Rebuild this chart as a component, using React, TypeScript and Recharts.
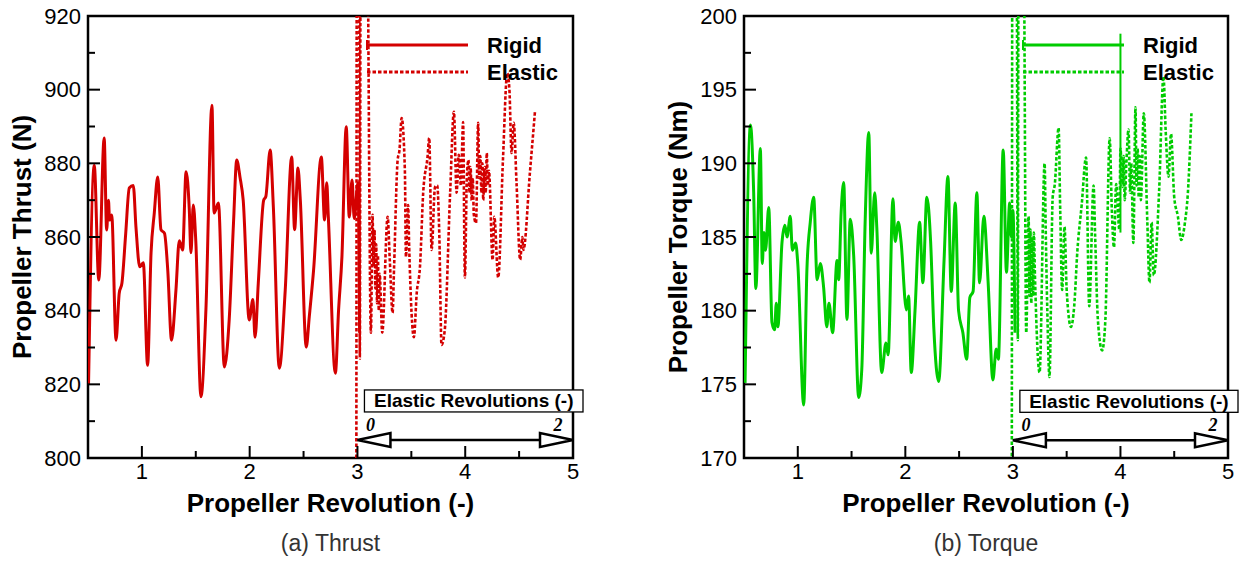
import { Label, Line, LineChart, ReferenceArea, ReferenceLine, XAxis, YAxis } from "recharts";

type Pt = [number, number];

// propeller revolution vs thrust (N) / torque (Nm)
const thrustRigid: Pt[] = [
  [0.505, 820], [0.558, 879.5], [0.6, 848.3], [0.65, 886.9], [0.673, 861.9], [0.69, 870], [0.7, 864.6],
  [0.72, 866], [0.76, 832], [0.79, 844.8], [0.815, 847.5], [0.85, 861], [0.883, 873.3], [0.92, 874],
  [0.945, 862.7], [0.98, 851.9], [1.013, 853], [1.053, 825.2], [1.085, 855.7], [1.115, 866.5],
  [1.147, 876.3], [1.177, 862], [1.21, 861], [1.24, 851], [1.275, 832], [1.316, 845.6], [1.347, 859],
  [1.378, 856.5], [1.41, 877.7], [1.44, 867.3], [1.455, 855.7], [1.477, 868.7], [1.5, 859],
  [1.548, 816.6], [1.594, 840.2], [1.65, 895.8], [1.67, 866.5], [1.71, 869.2], [1.765, 824.7],
  [1.81, 837.5], [1.85, 863.8], [1.88, 880.9], [1.91, 876.3], [1.94, 870], [1.996, 837.5], [2.03, 843],
  [2.05, 832.8], [2.08, 847.5], [2.13, 870], [2.15, 871], [2.19, 883.6], [2.22, 868], [2.275, 824.4],
  [2.33, 845.6], [2.39, 881.7], [2.417, 862], [2.448, 878.7], [2.47, 870], [2.525, 830.1],
  [2.553, 838.3], [2.593, 851], [2.665, 881.7], [2.695, 864.6], [2.715, 874.7], [2.73, 865.4],
  [2.795, 823], [2.825, 840.2], [2.856, 854.6], [2.896, 889.9], [2.924, 865.4], [2.95, 875.5],
  [2.97, 865], [3.005, 874.7], [3.02, 834],
];

const thrustElastic: Pt[] = [
  [2.99, 800], [2.995, 960], [3.015, 960], [3.022, 827], [3.03, 960], [3.085, 960], [3.125, 834],
  [3.14, 866], [3.15, 852], [3.158, 862], [3.166, 846], [3.174, 858], [3.182, 842], [3.19, 855],
  [3.198, 840], [3.206, 850], [3.23, 834], [3.28, 865.5], [3.3, 853.8], [3.326, 839.4], [3.34, 851.9],
  [3.373, 880.9], [3.39, 883.6], [3.41, 892.3], [3.44, 878.2], [3.45, 854.6], [3.47, 868.7],
  [3.48, 857.3], [3.524, 832.8], [3.55, 844.8], [3.58, 851.9], [3.61, 872], [3.65, 881.7],
  [3.666, 886.9], [3.688, 856.5], [3.72, 873.6], [3.74, 874], [3.76, 860], [3.78, 830.7],
  [3.81, 834.7], [3.86, 872], [3.895, 894], [3.92, 872], [3.94, 882.3], [3.96, 874], [3.98, 891.2],
  [3.997, 849], [4.015, 876], [4.03, 880.9], [4.04, 872], [4.05, 879], [4.06, 870], [4.07, 876],
  [4.08, 866], [4.1, 863.8], [4.12, 891], [4.13, 876], [4.14, 882], [4.15, 872], [4.16, 880],
  [4.167, 870], [4.18, 879], [4.19, 872], [4.2, 882.8], [4.21, 874], [4.22, 878], [4.254, 853.8],
  [4.27, 865.5], [4.306, 849], [4.35, 880.9], [4.39, 904.5], [4.41, 900], [4.43, 882.8], [4.45, 891],
  [4.476, 874.7], [4.51, 853.8], [4.53, 860], [4.54, 856.5], [4.6, 877.4], [4.647, 894],
];

const torqueRigid: Pt[] = [
  [0.51, 175.1], [0.56, 192.6], [0.59, 188], [0.61, 181.5], [0.652, 191], [0.67, 183.2], [0.685, 185.3],
  [0.7, 184.1], [0.73, 187], [0.76, 179.2], [0.785, 178.7], [0.8, 180.5], [0.815, 178.9], [0.853, 184.6],
  [0.88, 185.8], [0.9, 185], [0.93, 186.4], [0.95, 184.1], [0.98, 184.6], [1.0, 183.2], [1.055, 173.6],
  [1.085, 182.8], [1.116, 186], [1.148, 187.7], [1.18, 182.1], [1.21, 183.2], [1.24, 181.6],
  [1.27, 178.9], [1.29, 180.5], [1.324, 178.5], [1.365, 183.4], [1.38, 182.1], [1.404, 186.8],
  [1.427, 188.7], [1.457, 179.4], [1.488, 186.2], [1.52, 183.7], [1.566, 174.1], [1.595, 176],
  [1.627, 186.2], [1.66, 192.1], [1.683, 183.9], [1.715, 188], [1.735, 185.6], [1.78, 175.8],
  [1.82, 177.8], [1.84, 177], [1.885, 187.6], [1.905, 184.7], [1.935, 186], [1.96, 184.7],
  [2.01, 180.05], [2.03, 181], [2.055, 175.8], [2.09, 180], [2.133, 186], [2.163, 181.9], [2.2, 187.7],
  [2.235, 184.7], [2.265, 178.8], [2.31, 175.2], [2.36, 183.4], [2.396, 189.1], [2.427, 181.3],
  [2.464, 187.3], [2.495, 180], [2.535, 178.5], [2.57, 176.7], [2.6, 180.9], [2.63, 181.3],
  [2.665, 188], [2.69, 181.9], [2.73, 186.4], [2.77, 181.9], [2.814, 175.3], [2.845, 177.4],
  [2.865, 176.7], [2.91, 190.9], [2.94, 182.6], [2.97, 187.3], [2.985, 185], [3.0, 186.8], [3.02, 178.5],
];

const torqueElastic: Pt[] = [
  [2.99, 169], [2.995, 205], [3.035, 205], [3.046, 178], [3.052, 205], [3.1, 205], [3.124, 178.5],
  [3.146, 186.4], [3.155, 181], [3.163, 185.5], [3.171, 180.5], [3.179, 185], [3.187, 181],
  [3.195, 185.3], [3.205, 182.4], [3.248, 175.8], [3.295, 190], [3.305, 185.6], [3.32, 180],
  [3.34, 175.5], [3.37, 187.7], [3.39, 188.6], [3.425, 192.4], [3.44, 186.8], [3.458, 181.4],
  [3.48, 185.7], [3.5, 181.4], [3.54, 178.9], [3.57, 180.3], [3.6, 184.1], [3.64, 187.2],
  [3.68, 190.4], [3.71, 180.3], [3.75, 188.5], [3.765, 185], [3.79, 179.4], [3.83, 177.3],
  [3.86, 179.4], [3.9, 191.7], [3.92, 186.8], [3.94, 184.3], [3.96, 188.6], [3.99, 185.5], [4.0, 191],
  [4.02, 188.4], [4.03, 190.5], [4.04, 187.5], [4.055, 190], [4.075, 192.3], [4.09, 188], [4.1, 190],
  [4.12, 184.6], [4.14, 193.8], [4.15, 188.5], [4.16, 191], [4.17, 187.7], [4.18, 190.5],
  [4.19, 187.5], [4.217, 193.4], [4.25, 186], [4.27, 181.9], [4.29, 186], [4.31, 182.4],
  [4.36, 188.2], [4.4, 195.9], [4.42, 192.3], [4.447, 189.1], [4.47, 192], [4.5, 187.7],
  [4.534, 186.4], [4.565, 184.8], [4.6, 186], [4.627, 188], [4.66, 193.4],
];

// a stray solid segment of the rigid torque trace near x = 4
const torqueStray: Pt[] = [[4.0, 185.3], [4.0, 198.8]];

const revDomain: [number, number] = [0.5, 5];
const revTicks = [1, 1.5, 2, 2.5, 3, 3.5, 4, 4.5, 5];
const thrustDomain: [number, number] = [800, 920];
const thrustTicks = [800, 810, 820, 830, 840, 850, 860, 870, 880, 890, 900, 910, 920];
const torqueDomain: [number, number] = [170, 200];
const torqueTicks = [170, 172.5, 175, 177.5, 180, 182.5, 185, 187.5, 190, 192.5, 195, 197.5, 200];

const seriesNames = ["Rigid", "Elastic"];
const elasticSpan: [number, number] = [3, 5]; // elastic revolutions 0..2
const elasticSpanLabels = ["0", "2"];

const RED = "#d40000";
const GREEN = "#00cc00";
const DOTS = "3.5 2";

const toRows = (pts: Pt[]) => pts.map(([x, y]) => ({ x, y }));

function RevTick({ x, y, payload }: any) {
  const v = payload.value as number;
  const major = Number.isInteger(v);
  return (
    <g>
      <line x1={x} x2={x} y1={y} y2={y - (major ? 12 : 7)} stroke="#000" strokeWidth={2} />
      {major && (
        <text x={x} y={y + 13} textAnchor="middle" dominantBaseline="central" fontSize={22} fill="#000">
          {v}
        </text>
      )}
    </g>
  );
}

const valueTick = (step: number) =>
  function ValueTick({ x, y, payload }: any) {
    const v = payload.value as number;
    const major = Math.abs(v / step - Math.round(v / step)) < 1e-6;
    return (
      <g>
        <line x1={x} x2={x + (major ? 12 : 7)} y1={y} y2={y} stroke="#000" strokeWidth={2} />
        {major && (
          <text x={x - 7} y={y} textAnchor="end" dominantBaseline="central" fontSize={22} fill="#000">
            {v}
          </text>
        )}
      </g>
    );
  };

function SpanArrow({ x1, y1, x2 }: any) {
  const y = y1;
  const head = 33;
  const half = 7;
  return (
    <g>
      <rect x={x1 + 7} y={y - 50} width={x2 - x1 + 3} height={22} fill="#fff" stroke="#000" strokeWidth={1.3} />
      <text x={x1 + 7 + (x2 - x1 + 3) / 2} y={y - 39} textAnchor="middle" dominantBaseline="central" fontSize={19} fontWeight="bold" fill="#000">
        Elastic Revolutions (-)
      </text>
      <line x1={x1 + head} x2={x2 - head} y1={y} y2={y} stroke="#000" strokeWidth={2.5} />
      <polygon points={`${x1},${y} ${x1 + head},${y - half} ${x1 + head},${y + half}`} fill="#fff" stroke="#000" strokeWidth={2.5} />
      <polygon points={`${x2},${y} ${x2 - head},${y - half} ${x2 - head},${y + half}`} fill="#fff" stroke="#000" strokeWidth={2.5} />
      <text x={x1 + 13} y={y - 15} textAnchor="middle" dominantBaseline="central" fontFamily="Liberation Serif" fontStyle="italic" fontWeight="bold" fontSize={18} fill="#000">
        {elasticSpanLabels[0]}
      </text>
      <text x={x2 - 15} y={y - 15} textAnchor="middle" dominantBaseline="central" fontFamily="Liberation Serif" fontStyle="italic" fontWeight="bold" fontSize={18} fill="#000">
        {elasticSpanLabels[1]}
      </text>
    </g>
  );
}

// in-plot key: solid = rigid, dotted = elastic
function LegendKey({ color }: { color: string }) {
  return (
    <svg width={200} height={56} style={{ display: "block" }}>
      <line x1={7} x2={108} y1={15} y2={15} stroke={color} strokeWidth={2.8} />
      <line x1={7} x2={7} y1={10} y2={20} stroke={color} strokeWidth={2} />
      <line x1={7} x2={108} y1={42} y2={42} stroke={color} strokeWidth={2.8} strokeDasharray={DOTS} />
      <text x={127} y={15} dominantBaseline="central" fontSize={22} fontWeight="bold" fill="#000">
        {seriesNames[0]}
      </text>
      <text x={127} y={42} dominantBaseline="central" fontSize={22} fontWeight="bold" fill="#000">
        {seriesNames[1]}
      </text>
    </svg>
  );
}

interface PanelProps {
  left: number;
  width: number;
  rightMargin: number;
  rigid: Pt[];
  elastic: Pt[];
  color: string;
  yDomain: [number, number];
  yTicks: number[];
  yStep: number;
  yLabel: string;
  arrowY: number;
  caption: string;
  stray?: Pt[];
}

function Panel(p: PanelProps) {
  const plotCenter = p.left + (88 + p.width - p.rightMargin) / 2;
  return (
    <>
      <div style={{ position: "absolute", left: p.left, top: 0 }}>
        <LineChart width={p.width} height={520} margin={{ top: 16, right: p.rightMargin, bottom: 0, left: 0 }}>
          <XAxis
            type="number"
            dataKey="x"
            domain={revDomain}
            ticks={revTicks}
            interval={0}
            allowDataOverflow
            axisLine={false}
            tickLine={false}
            tickSize={0}
            tickMargin={0}
            tick={<RevTick />}
            height={62}
          >
            <Label
              content={({ viewBox }: any) => (
                <text x={viewBox.x + viewBox.width / 2} y={viewBox.y + 45} textAnchor="middle" dominantBaseline="central" fontSize={26} fontWeight="bold" fill="#000">
                  Propeller Revolution (-)
                </text>
              )}
            />
          </XAxis>
          <YAxis
            type="number"
            domain={p.yDomain}
            ticks={p.yTicks}
            interval={0}
            allowDataOverflow
            axisLine={false}
            tickLine={false}
            tickSize={0}
            tickMargin={0}
            tick={valueTick(p.yStep)}
            width={88}
          >
            <Label
              content={({ viewBox }: any) => {
                const cx = 22;
                const cy = viewBox.y + viewBox.height / 2;
                return (
                  <text x={cx} y={cy} transform={`rotate(-90 ${cx} ${cy})`} textAnchor="middle" dominantBaseline="central" fontSize={26} fontWeight="bold" fill="#000">
                    {p.yLabel}
                  </text>
                );
              }}
            />
          </YAxis>
          <ReferenceArea
            x1={revDomain[0]}
            x2={revDomain[1]}
            y1={p.yDomain[0]}
            y2={p.yDomain[1]}
            fill="none"
            fillOpacity={0}
            stroke="#000"
            strokeWidth={2.5}
            ifOverflow="visible"
          />
          <Line
            data={toRows(p.rigid)}
            dataKey="y"
            name={seriesNames[0]}
            type="monotone"
            stroke={p.color}
            strokeWidth={3}
            dot={false}
            isAnimationActive={false}
          />
          <Line
            data={toRows(p.elastic)}
            dataKey="y"
            name={seriesNames[1]}
            type="monotone"
            stroke={p.color}
            strokeWidth={2.6}
            strokeDasharray={DOTS}
            dot={false}
            isAnimationActive={false}
          />
          {p.stray && (
            <ReferenceLine segment={toRows(p.stray)} stroke={p.color} strokeWidth={2} ifOverflow="visible" />
          )}
          <ReferenceLine
            segment={[
              { x: elasticSpan[0], y: p.arrowY },
              { x: elasticSpan[1], y: p.arrowY },
            ]}
            ifOverflow="visible"
            shape={(props: any) => <SpanArrow {...props} />}
          />
        </LineChart>
        <div style={{ position: "absolute", left: 360, top: 30 }}>
          <LegendKey color={p.color} />
        </div>
      </div>
      <div
        style={{
          position: "absolute",
          left: plotCenter - 150,
          width: 300,
          top: 530,
          textAlign: "center",
          fontSize: 23,
          color: "#333",
        }}
      >
        {p.caption}
      </div>
    </>
  );
}

export default function App() {
  return (
    <div
      style={{
        position: "absolute",
        left: 0,
        top: 0,
        width: 1247,
        height: 562,
        background: "#fff",
        fontFamily: "'Liberation Sans', Arial, sans-serif",
        overflow: "hidden",
      }}
    >
      <Panel
        left={0}
        width={600}
        rightMargin={27}
        rigid={thrustRigid}
        elastic={thrustElastic}
        color={RED}
        yDomain={thrustDomain}
        yTicks={thrustTicks}
        yStep={20}
        yLabel="Propeller Thrust (N)"
        arrowY={804.9}
        caption="(a) Thrust"
      />
      <Panel
        left={656}
        width={591}
        rightMargin={19}
        rigid={torqueRigid}
        elastic={torqueElastic}
        color={GREEN}
        yDomain={torqueDomain}
        yTicks={torqueTicks}
        yStep={5}
        yLabel="Propeller Torque (Nm)"
        arrowY={171.2}
        caption="(b) Torque"
        stray={torqueStray}
      />
    </div>
  );
}
